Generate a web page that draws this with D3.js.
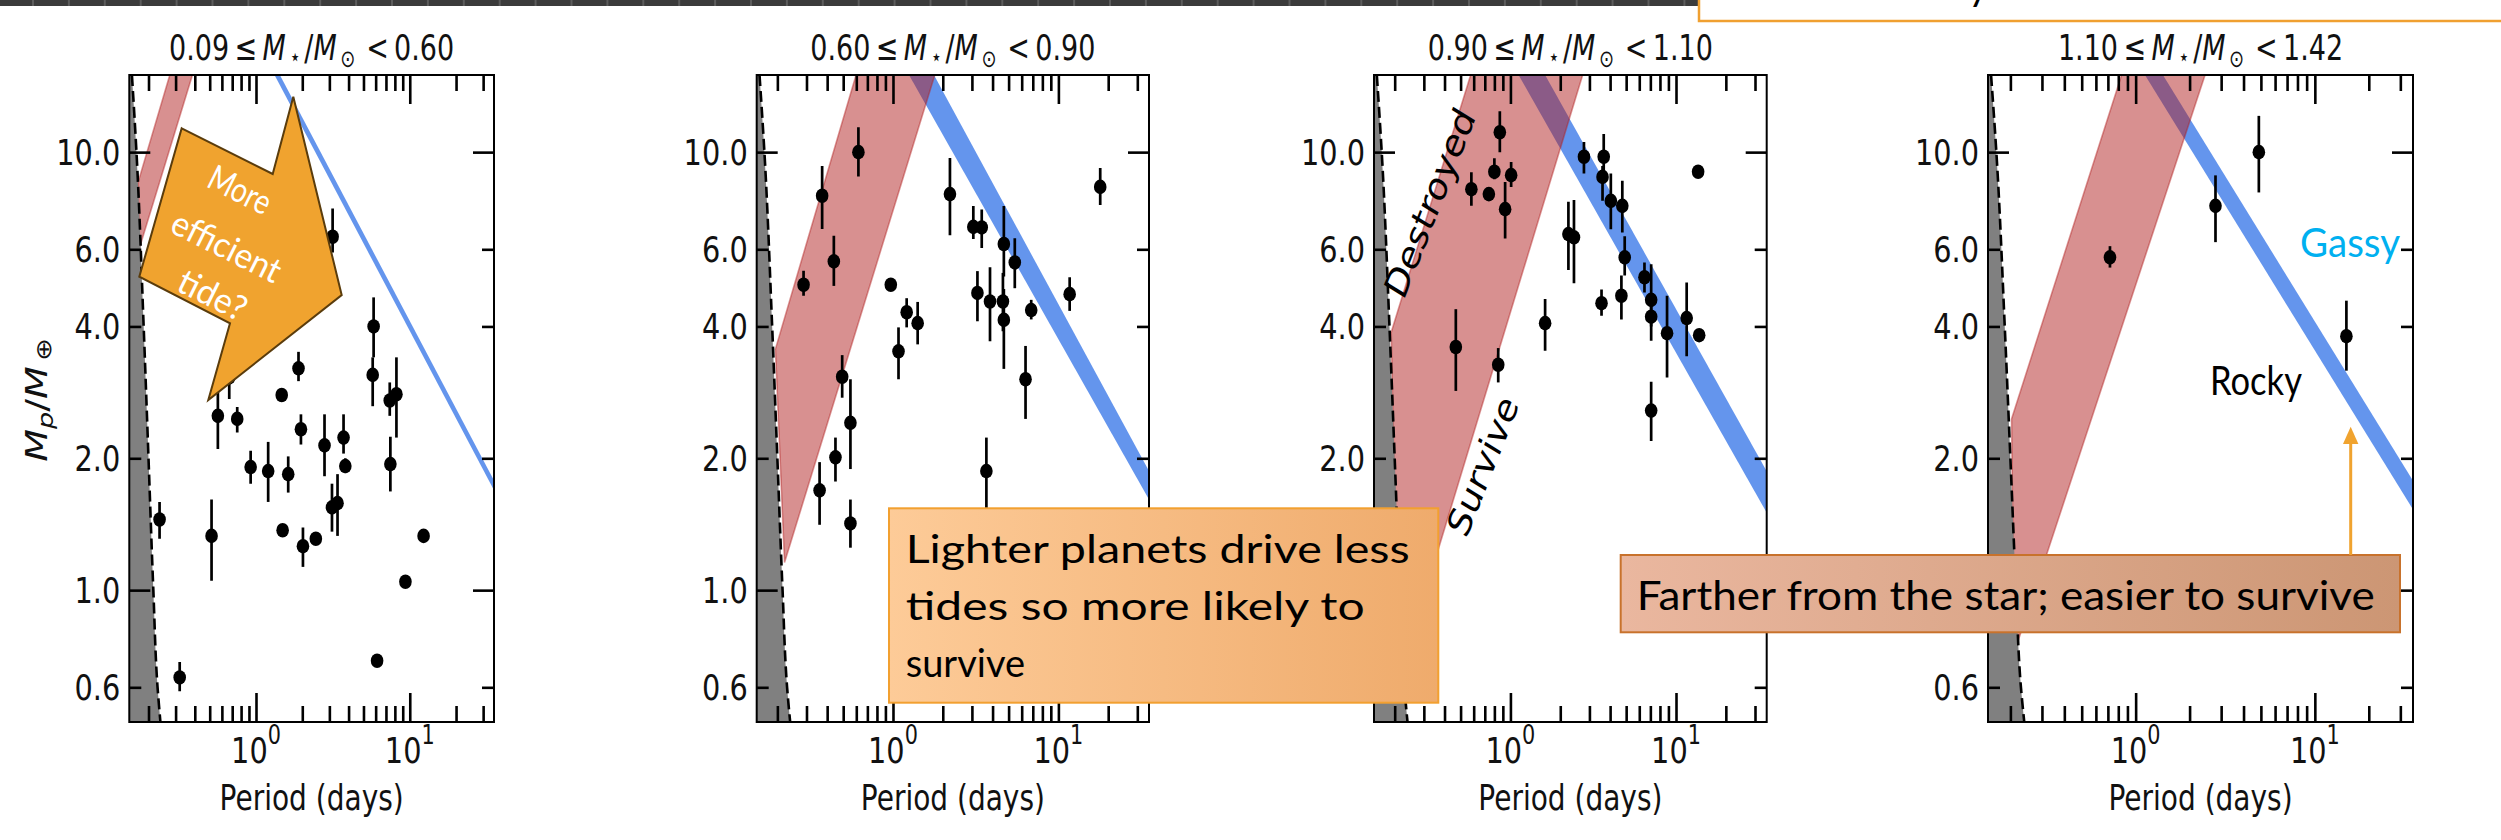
<!DOCTYPE html>
<html>
<head>
<meta charset="utf-8">
<script src="https://cdn.jsdelivr.net/npm/d3@7"></script>
<style>
  body { margin: 0; background: #fff; }
  svg { display: block; }
</style>
</head>
<body>
<svg id="fig" width="2501" height="840"></svg>
<script>
// ---------------------------------------------------------------------------
// Data
// ---------------------------------------------------------------------------
// Stellar-mass bins, one panel each
const massBins = [["0.09", "0.60"], ["0.60", "0.90"], ["0.90", "1.10"], ["1.10", "1.42"]];

// Axis domains and ticks
const periodDomain = [0.15, 35.3];
const massDomain = [0.5, 15];
const xMajorTicks = [1, 10];
const xMinorTicks = [0.2, 0.3, 0.4, 0.5, 0.6, 0.7, 0.8, 0.9, 2, 3, 4, 5, 6, 7, 8, 9, 20, 30];
const yTickLabels = [10, 6, 4, 2, 1, 0.6];
const yMajorTicks = [10, 1];
const yMinorTicks = [6, 4, 2, 0.6];

// Planets: [period (d), mass (M_earth), mass lower bound, mass upper bound]
const planetsBin1 = [
  [3.15, 6.41, 5.90, 7.44], [5.82, 4.00, 3.40, 4.66], [1.89, 3.21, 3.00, 3.50],
  [5.74, 3.10, 2.63, 3.40], [1.47, 2.79, 2.79, 2.79], [7.41, 2.71, 2.50, 2.98],
  [8.19, 2.80, 2.23, 3.40], [0.67, 3.06, 2.73, 3.40], [0.565, 2.50, 2.10, 2.85],
  [0.755, 2.46, 2.29, 2.62], [0.236, 1.45, 1.31, 1.59], [0.319, 0.632, 0.588, 0.685],
  [0.514, 1.33, 1.05, 1.61], [0.923, 1.91, 1.75, 2.08], [1.20, 1.87, 1.59, 2.18],
  [1.62, 1.84, 1.67, 2.02], [1.49, 1.37, 1.33, 1.41], [1.96, 2.33, 2.15, 2.52],
  [2.02, 1.26, 1.13, 1.39], [2.45, 1.31, 1.28, 1.34], [2.79, 2.14, 1.82, 2.52],
  [3.12, 1.545, 1.36, 1.75], [3.39, 1.58, 1.33, 1.84], [3.71, 2.23, 2.05, 2.52],
  [3.81, 1.92, 1.85, 2.00], [7.48, 1.94, 1.68, 2.24], [6.13, 0.69, 0.69, 0.69],
  [9.37, 1.045, 1.045, 1.045], [12.3, 1.33, 1.33, 1.33]
];
const planetsBin2 = [
  [0.618, 10.0, 8.8, 11.4], [0.373, 7.95, 6.68, 9.3], [0.439, 5.63, 4.95, 6.44],
  [0.288, 4.98, 4.70, 5.36], [0.493, 3.07, 2.75, 3.44], [0.553, 2.41, 1.89, 3.03],
  [0.97, 4.98, 4.85, 5.12], [1.21, 4.31, 3.98, 4.64], [1.41, 4.07, 3.64, 4.55],
  [1.08, 3.51, 3.03, 3.98], [2.21, 8.02, 6.46, 9.69], [3.06, 6.75, 6.33, 7.53],
  [3.44, 6.73, 6.04, 7.40], [4.68, 6.17, 5.20, 7.53], [5.45, 5.60, 4.89, 6.36],
  [3.24, 4.77, 4.11, 5.35], [3.86, 4.56, 3.70, 5.46], [4.62, 4.56, 3.90, 5.30],
  [4.68, 4.14, 3.20, 4.87], [6.85, 4.36, 4.15, 4.60], [6.33, 3.03, 2.46, 3.61],
  [11.7, 4.74, 4.34, 5.18], [17.9, 8.33, 7.57, 9.20], [0.36, 1.69, 1.41, 1.96],
  [0.449, 2.01, 1.77, 2.23], [0.553, 1.42, 1.25, 1.61], [3.67, 1.87, 1.50, 2.23]
];
const planetsBin3 = [
  [0.863, 11.1, 10.0, 12.4], [0.80, 9.02, 8.67, 9.68], [1.01, 8.86, 8.32, 9.50],
  [0.581, 8.23, 7.54, 9.00], [0.741, 8.02, 8.02, 8.02], [0.929, 7.41, 6.35, 8.55],
  [0.468, 3.59, 2.85, 4.38], [0.844, 3.27, 2.98, 3.57], [1.62, 4.07, 3.52, 4.62],
  [2.78, 9.76, 8.94, 10.55], [3.66, 9.76, 8.60, 11.0], [3.60, 8.78, 7.74, 9.30],
  [4.04, 7.74, 6.67, 8.94], [4.74, 7.54, 6.55, 8.60], [2.24, 6.50, 5.38, 7.70],
  [2.42, 6.39, 5.02, 7.78], [4.90, 5.75, 5.23, 6.43], [6.45, 5.18, 4.78, 5.60],
  [3.55, 4.52, 4.23, 4.86], [4.68, 4.70, 4.15, 5.23], [7.08, 4.60, 4.00, 5.55],
  [7.08, 4.21, 3.71, 4.62], [8.83, 3.86, 3.06, 4.70], [11.6, 4.18, 3.42, 5.04],
  [13.8, 3.82, 3.82, 3.82], [13.6, 9.02, 9.02, 9.02], [7.08, 2.57, 2.19, 2.99]
];
const planetsBin4 = [
  [0.719, 5.75, 5.45, 6.10], [2.79, 7.54, 6.23, 8.85],
  [4.87, 10.0, 8.09, 12.1], [15.0, 3.80, 3.17, 4.58]
];
const planetsByBin = [planetsBin1, planetsBin2, planetsBin3, planetsBin4];

// Roche limit: planet mass and the matching orbital period
const rocheMass = [15, 10, 4, 2, 1, 0.6, 0.5];
const rochePeriod = [0.156, 0.167, 0.186, 0.200, 0.215, 0.229, 0.239];

// Tidal-destruction band: two edges per bin, each [[P, M], [P, M]]
const tidalUpperEdge = [
  [[0.171, 8.53], [0.275, 15]], [[0.1946, 3.55], [0.598, 15]],
  [[0.1906, 3.88], [0.575, 15]], [[0.203, 2.46], [0.835, 15]]
];
const tidalLowerEdge = [
  [[0.175, 6.06], [0.386, 15]], [[0.221, 1.157], [1.79, 15]],
  [[0.21, 0.62], [2.73, 15]], [[0.21, 0.72], [2.44, 15]]
];

// Radius-valley band: two edges per bin, each [[P, M], [P, M]]
const valleyLowerEdge = [
  [[1.32, 15], [35.3, 1.69]], [[1.25, 15], [35.3, 1.61]],
  [[1.12, 15], [34.7, 1.52]], [[1.127, 15], [35.2, 1.53]]
];
const valleyUpperEdge = [
  [[1.43, 15], [35.3, 1.78]], [[1.77, 15], [35.3, 1.87]],
  [[1.62, 15], [34.7, 1.89]], [[1.42, 15], [35.2, 1.78]]
];

// ---------------------------------------------------------------------------
// Layout
// ---------------------------------------------------------------------------
const panelX = [[129.3, 494], [756.7, 1149], [1374, 1766.7], [1988, 2413]];
const plotTop = 75, plotBottom = 722;
const SQ = 0.8;                       // horizontal compression of chart lettering
const SQ_TITLE = 0.75;
const FONT = "'DejaVu Sans', sans-serif";
const NOTE_FONT = "Lato, 'Noto Sans', sans-serif";

const svg = d3.select("#fig");
svg.append("rect").attr("width", 2501).attr("height", 840).attr("fill", "#fff");
const defs = svg.append("defs");

// extend a log-log segment beyond its ends (fractions of its length)
function extend(seg, before, after) {
  const [a, b] = seg;
  const la = [Math.log10(a[0]), Math.log10(a[1])], lb = [Math.log10(b[0]), Math.log10(b[1])];
  const d = [lb[0] - la[0], lb[1] - la[1]];
  return [
    [10 ** (la[0] - d[0] * before), 10 ** (la[1] - d[1] * before)],
    [10 ** (lb[0] + d[0] * after), 10 ** (lb[1] + d[1] * after)]
  ];
}

function chartText(parent, x, y, size, anchor, squash = SQ) {
  return parent.append("text")
    .attr("transform", `translate(${x},${y}) scale(${squash},1)`)
    .attr("text-anchor", anchor)
    .style("font-family", FONT)
    .style("font-size", size + "px")
    .attr("fill", "#111");
}

panelX.forEach((range, i) => {
  const x = d3.scaleLog().domain(periodDomain).range(range);
  const y = d3.scaleLog().domain(massDomain).range([plotBottom, plotTop]);
  const g = svg.append("g");
  const pt = d => [x(d[0]), y(d[1])];

  defs.append("clipPath").attr("id", "plotclip" + i)
    .append("rect").attr("x", range[0]).attr("y", plotTop)
    .attr("width", range[1] - range[0]).attr("height", plotBottom - plotTop);
  const plot = g.append("g").attr("clip-path", `url(#plotclip${i})`);

  // radius valley band
  const vLo = extend(valleyLowerEdge[i], 0.2, 0.2);
  const vHi = extend(valleyUpperEdge[i], 0.2, 0.2);
  plot.append("path")
    .attr("d", "M" + [pt(vLo[0]), pt(vLo[1]), pt(vHi[1]), pt(vHi[0])].join("L") + "Z")
    .attr("fill", "cornflowerblue");

  // tidal destruction band
  const tUp = extend(tidalUpperEdge[i], 0, 0.3);
  const tLo = extend(tidalLowerEdge[i], 0, 0.3);
  plot.append("path")
    .attr("d", "M" + [pt(tUp[0]), pt(tUp[1]), pt(tLo[1]), pt(tLo[0])].join("L") + "Z")
    .attr("fill", "firebrick").attr("fill-opacity", 0.5)
    .attr("stroke", "firebrick").attr("stroke-opacity", 0.45).attr("stroke-width", 1.6);

  // region inside the Roche limit
  const roche = rocheMass.map((m, k) => ({ m, p: rochePeriod[k] }));
  plot.append("path")
    .attr("d", d3.area().x0(range[0] - 2).x1(d => x(d.p)).y(d => y(d.m)).curve(d3.curveMonotoneY)(roche))
    .attr("fill", "#808080");
  plot.append("path")
    .attr("d", d3.line().x(d => x(d.p)).y(d => y(d.m)).curve(d3.curveMonotoneY)(roche))
    .attr("fill", "none").attr("stroke", "#000").attr("stroke-width", 2.6)
    .attr("stroke-dasharray", "11,5");

  // planets with mass error bars
  const pl = plot.append("g");
  pl.selectAll("line").data(planetsByBin[i]).join("line")
    .attr("x1", d => x(d[0])).attr("x2", d => x(d[0]))
    .attr("y1", d => y(d[2])).attr("y2", d => y(d[3]))
    .attr("stroke", "#000").attr("stroke-width", 2.7);
  pl.selectAll("ellipse").data(planetsByBin[i]).join("ellipse")
    .attr("cx", d => x(d[0])).attr("cy", d => y(d[1]))
    .attr("rx", 6.3).attr("ry", 7.3).attr("fill", "#000");

  // inward ticks on all four sides
  const tickStyle = sel => {
    sel.select(".domain").remove();
    sel.selectAll(".tick line").attr("stroke", "#000").attr("stroke-width", 2.6);
    sel.selectAll(".tick text").remove();
  };
  const axes = g.append("g");
  axes.append("g").attr("transform", `translate(0,${plotBottom})`)
    .call(d3.axisBottom(x).tickValues(xMajorTicks).tickSize(-29).tickFormat("")).call(tickStyle);
  axes.append("g").attr("transform", `translate(0,${plotBottom})`)
    .call(d3.axisBottom(x).tickValues(xMinorTicks).tickSize(-16).tickFormat("")).call(tickStyle);
  axes.append("g").attr("transform", `translate(0,${plotTop})`)
    .call(d3.axisTop(x).tickValues(xMajorTicks).tickSize(-29).tickFormat("")).call(tickStyle);
  axes.append("g").attr("transform", `translate(0,${plotTop})`)
    .call(d3.axisTop(x).tickValues(xMinorTicks).tickSize(-16).tickFormat("")).call(tickStyle);
  axes.append("g").attr("transform", `translate(${range[0]},0)`)
    .call(d3.axisLeft(y).tickValues(yMajorTicks).tickSize(-21).tickFormat("")).call(tickStyle);
  axes.append("g").attr("transform", `translate(${range[0]},0)`)
    .call(d3.axisLeft(y).tickValues(yMinorTicks).tickSize(-12).tickFormat("")).call(tickStyle);
  axes.append("g").attr("transform", `translate(${range[1]},0)`)
    .call(d3.axisRight(y).tickValues(yMajorTicks).tickSize(-21).tickFormat("")).call(tickStyle);
  axes.append("g").attr("transform", `translate(${range[1]},0)`)
    .call(d3.axisRight(y).tickValues(yMinorTicks).tickSize(-12).tickFormat("")).call(tickStyle);

  // frame
  g.append("rect").attr("x", range[0]).attr("y", plotTop)
    .attr("width", range[1] - range[0]).attr("height", plotBottom - plotTop)
    .attr("fill", "none").attr("stroke", "#000").attr("stroke-width", 2);

  // tick labels
  xMajorTicks.forEach(v => {
    const t = chartText(g, x(v), 763, 36, "middle");
    t.append("tspan").text("10");
    t.append("tspan").attr("dy", -19).style("font-size", "26px").text(Math.round(Math.log10(v)));
  });
  yTickLabels.forEach(v => {
    chartText(g, range[0] - 9, y(v) + 13, 36, "end").text(v.toFixed(1));
  });

  // axis label and title
  const cx = (range[0] + range[1]) / 2;
  chartText(g, cx, 810, 35, "middle").text("Period (days)");
  const title = chartText(g, cx, 60, 36, "middle", SQ_TITLE);
  title.append("tspan").text(massBins[i][0] + "\u2009\u2264\u2009");
  title.append("tspan").style("font-style", "italic").text("M");
  title.append("tspan").attr("dy", 5).style("font-size", "24px").text("\u2009\u22C6\u2009");
  title.append("tspan").attr("dy", -5).text("/");
  title.append("tspan").style("font-style", "italic").text("M");
  title.append("tspan").attr("dy", 7).style("font-size", "24px").text("\u2009\u2299");
  title.append("tspan").attr("dy", -7).text("\u2009\u2009<\u2009" + massBins[i][1]);

  // regime labels in the solar-mass bin
  if (i === 2) {
    const th = Math.atan(Math.tan(68.5 * Math.PI / 180) * SQ) * 180 / Math.PI;
    g.append("text")
      .attr("transform", `translate(1430,203) scale(${SQ},1) rotate(${-th})`)
      .attr("text-anchor", "middle").attr("dominant-baseline", "central")
      .style("font-family", FONT).style("font-size", "40px").attr("fill", "#000")
      .text("Destroyed");
    g.append("text")
      .attr("transform", `translate(1483,466) scale(${SQ},1) rotate(${-th})`)
      .attr("text-anchor", "middle").attr("dominant-baseline", "central")
      .style("font-family", FONT).style("font-size", "40px").attr("fill", "#000")
      .text("Survive");
  }
});

// y-axis label
const yl = svg.append("text")
  .attr("transform", `translate(47,400) scale(${SQ},1) rotate(-90)`)
  .attr("text-anchor", "middle")
  .style("font-family", FONT).style("font-size", "38px").attr("fill", "#111");
yl.append("tspan").style("font-style", "italic").text("M");
yl.append("tspan").attr("dy", 7).style("font-size", "27px").style("font-style", "italic").text("p");
yl.append("tspan").attr("dy", -7).text("/");
yl.append("tspan").style("font-style", "italic").text("M");
yl.append("tspan").attr("dy", 5).style("font-size", "27px").text("\u2009\u2295");

// ---------------------------------------------------------------------------
// Annotations
// ---------------------------------------------------------------------------
const notes = svg.append("g");

// strip and caption box across the top
notes.append("rect").attr("x", 0).attr("y", 0).attr("width", 1700).attr("height", 6).attr("fill", "#3b3b3b");
d3.range(33, 1700, 35.9).forEach(sx => {
  notes.append("line").attr("x1", sx).attr("x2", sx).attr("y1", 0).attr("y2", 6)
    .attr("stroke", "#5c5c5c").attr("stroke-width", 2);
});
notes.append("rect").attr("x", 1699).attr("y", -20).attr("width", 830).attr("height", 41)
  .attr("fill", "#fff").attr("stroke", "#f0a030").attr("stroke-width", 2.5);
notes.append("text").attr("x", 1968).attr("y", 0)
  .style("font-family", NOTE_FONT).style("font-size", "40px").attr("fill", "#000").text("y");

// block arrow in the lightest bin
notes.append("polygon")
  .attr("points", [[181.7, 128.3], [272.7, 174], [293.3, 96.7], [341.7, 295], [208.3, 400], [230, 323.3], [139.3, 276.7]].join(" "))
  .attr("fill", "#f0a32f").attr("stroke", "#5a3c0c").attr("stroke-width", 2);
[["More", 240.7, 188.3, 66], ["efficient", 227.3, 245, 118], ["tide?", 213.3, 293.3, 72]].forEach(([s, cx, cy, len]) => {
  notes.append("text")
    .attr("transform", `translate(${cx},${cy}) rotate(26.5)`)
    .attr("text-anchor", "middle").attr("dominant-baseline", "central")
    .attr("textLength", len).attr("lengthAdjust", "spacingAndGlyphs")
    .style("font-family", NOTE_FONT).style("font-size", "35px").attr("fill", "#fff")
    .text(s);
});

// gradients for the two callout boxes
const gradA = defs.append("linearGradient").attr("id", "boxA");
gradA.append("stop").attr("offset", "0%").attr("stop-color", "#fdcb98");
gradA.append("stop").attr("offset", "100%").attr("stop-color", "#efab6c");
const gradB = defs.append("linearGradient").attr("id", "boxB");
gradB.append("stop").attr("offset", "0%").attr("stop-color", "#eab79f");
gradB.append("stop").attr("offset", "100%").attr("stop-color", "#cc9674");

notes.append("rect").attr("x", 889).attr("y", 508.3).attr("width", 549.3).attr("height", 194.4)
  .attr("fill", "url(#boxA)").attr("stroke", "#f2a030").attr("stroke-width", 2);
[["Lighter planets drive less", 563.3, 504], ["tides so more likely to", 620, 459], ["survive", 676.7, null]].forEach(([s, by, len]) => {
  const t = notes.append("text").attr("x", 905.7).attr("y", by)
    .style("font-family", NOTE_FONT).style("font-size", "38px").attr("fill", "#000").text(s);
  if (len) t.attr("textLength", len).attr("lengthAdjust", "spacingAndGlyphs");
});

notes.append("rect").attr("x", 1620.7).attr("y", 555).attr("width", 779.3).attr("height", 77.3)
  .attr("fill", "url(#boxB)").attr("stroke", "#c8722c").attr("stroke-width", 2);
notes.append("text").attr("x", 1636.7).attr("y", 610)
  .attr("textLength", 738).attr("lengthAdjust", "spacingAndGlyphs")
  .style("font-family", NOTE_FONT).style("font-size", "40px").attr("fill", "#000")
  .text("Farther from the star; easier to survive");

// upward arrow from the box
notes.append("line").attr("x1", 2350.7).attr("x2", 2350.7).attr("y1", 555).attr("y2", 442)
  .attr("stroke", "#f0a32f").attr("stroke-width", 3);
notes.append("polygon").attr("points", [[2343, 444], [2358.4, 444], [2350.7, 426.7]].join(" "))
  .attr("fill", "#f0a32f");

// composition labels
notes.append("text").attr("x", 2300).attr("y", 256.7)
  .attr("textLength", 100).attr("lengthAdjust", "spacingAndGlyphs")
  .style("font-family", NOTE_FONT).style("font-size", "40px").attr("fill", "#00b0f0").text("Gassy");
notes.append("text").attr("x", 2210).attr("y", 395)
  .attr("textLength", 92).attr("lengthAdjust", "spacingAndGlyphs")
  .style("font-family", NOTE_FONT).style("font-size", "40px").attr("fill", "#000").text("Rocky");
</script>
</body>
</html>
